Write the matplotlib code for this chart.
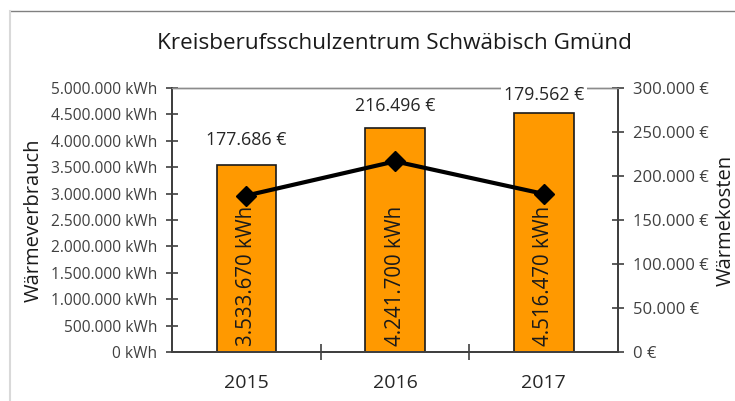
import matplotlib
matplotlib.use("Agg")
import matplotlib.pyplot as plt
from matplotlib.lines import Line2D
from matplotlib.ticker import FuncFormatter, FixedLocator

plt.rcParams["font.family"] = ["Open Sans", "DejaVu Sans"]

years = ["2015", "2016", "2017"]
verbrauch_kwh = [3533670, 4241700, 4516470]
kosten_eur = [177686, 216496, 179562]
# offset of each cost label above its point (points)
kosten_label_offset = [40, 40, 71]

ORANGE = "#FF9900"
AXIS_GREY = "#404040"


def de_num(v):
    return f"{v:,.0f}".replace(",", ".")


fig = plt.figure(figsize=(7.35, 4.01), dpi=100)
ax1 = fig.add_axes([0.234, 0.122, 0.607, 0.659])
ax2 = ax1.twinx()

x = list(range(len(years)))
ax1.bar(x, verbrauch_kwh, width=0.4, color=ORANGE, edgecolor="#1a1a1a", linewidth=1.2, zorder=2)
for xi, v in zip(x, verbrauch_kwh):
    ax1.text(xi, 110000, de_num(v) + " kWh", rotation=90, ha="center", va="bottom",
             fontsize=14.8, color="#1a1a1a", zorder=3)

ax2.plot(x, kosten_eur, color="black", lw=3, marker="D", markersize=10, zorder=4)
for xi, v, off in zip(x, kosten_eur, kosten_label_offset):
    ax2.annotate(de_num(v) + " €", (xi, v), xytext=(0, off), textcoords="offset points",
                 ha="center", va="center", fontsize=12.8, color="#262626",
                 bbox=dict(boxstyle="square,pad=0.15", fc="white", ec="none"), zorder=5)

ax1.set_xlim(-0.5, 2.5)
ax1.set_ylim(0, 5000000)
ax2.set_ylim(0, 300000)
ax1.set_yticks(range(0, 5000001, 500000))
ax2.set_yticks(range(0, 300001, 50000))
ax1.yaxis.set_major_formatter(FuncFormatter(lambda v, p: de_num(v) + " kWh"))
ax2.yaxis.set_major_formatter(FuncFormatter(lambda v, p: de_num(v) + " €"))

ax1.set_xticks(x)
ax1.set_xticklabels(years, fontsize=14, color="#262626")
ax1.xaxis.set_minor_locator(FixedLocator([0.5, 1.5]))
ax1.tick_params(axis="x", which="major", length=0, pad=16)
ax1.tick_params(axis="x", which="minor", direction="inout", length=11, width=1.2, color=AXIS_GREY)
ax1.tick_params(axis="y", direction="inout", length=9, width=1.2, color=AXIS_GREY,
                labelsize=11.2, labelcolor="#404040", pad=6)
ax2.tick_params(axis="y", direction="inout", length=9, width=1.2, color=AXIS_GREY,
                labelsize=12, labelcolor="#404040", pad=6)

for a in (ax1, ax2):
    a.spines["left"].set_color(AXIS_GREY)
    a.spines["right"].set_color(AXIS_GREY)
    a.spines["bottom"].set_color(AXIS_GREY)
    a.spines["top"].set_color("#8c8c8c")
    for s in a.spines.values():
        s.set_linewidth(1.4)
ax1.spines["top"].set_linewidth(1.0)
ax2.spines["top"].set_linewidth(1.0)
ax2.set_zorder(ax1.get_zorder() + 1)
ax2.patch.set_visible(False)

ax1.set_ylabel("Wärmeverbrauch", fontsize=14.5, color="#1a1a1a", labelpad=5)
ax2.set_ylabel("Wärmekosten", fontsize=14.5, color="#1a1a1a", labelpad=5)

fig.text(0.537, 0.892, "Kreisberufsschulzentrum Schwäbisch Gmünd", ha="center", va="center",
         fontsize=16.2, color="#1a1a1a")

# outer chart frame remnants
fig.add_artist(Line2D([10 / 735, 1], [1 - 11 / 401, 1 - 11 / 401], color="#808080", lw=1))
fig.add_artist(Line2D([10 / 735, 10 / 735], [0, 1 - 11 / 401], color="#d9d9d9", lw=1.5))

fig.savefig("out.png", dpi=100)
